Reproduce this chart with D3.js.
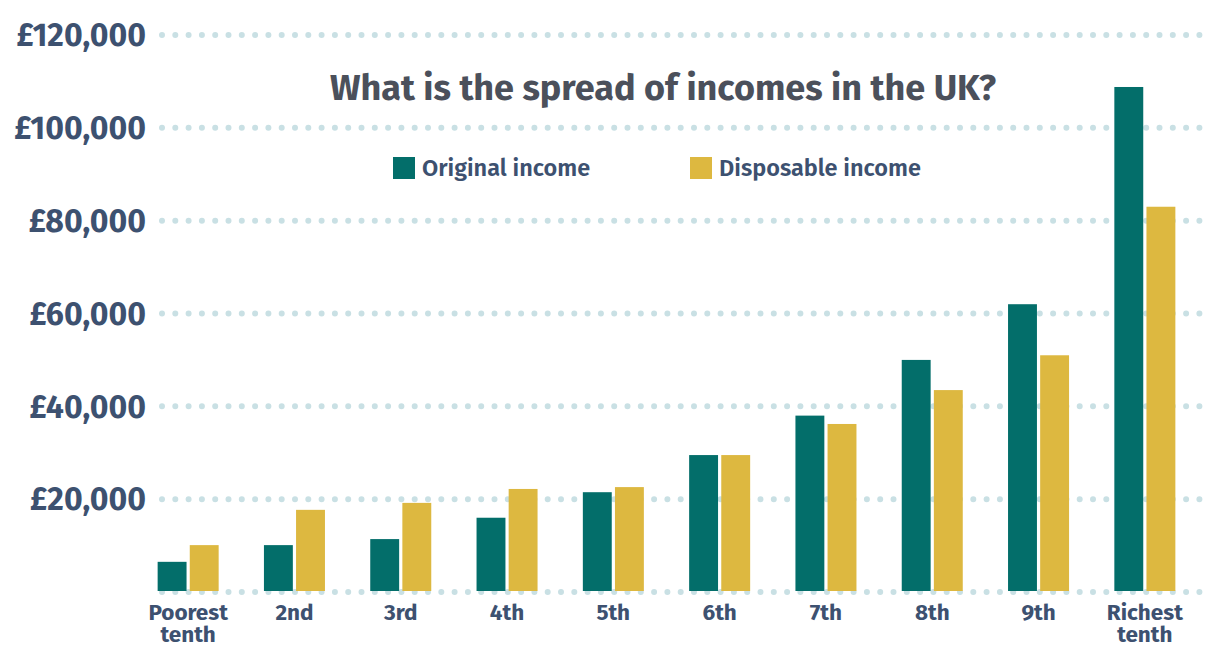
<!DOCTYPE html>
<html>
<head>
<meta charset="utf-8">
<script src="https://cdn.jsdelivr.net/npm/d3@7"></script>
<style>
  body { margin: 0; background: #fff; }
  svg { display: block; font-family: "Fira Sans", Lato, "Open Sans", sans-serif; }
</style>
</head>
<body>
<svg width="1215" height="646"></svg>
<script>
const svg = d3.select('svg');

// data
const deciles = ["Poorest tenth", "2nd", "3rd", "4th", "5th", "6th", "7th", "8th", "9th", "Richest tenth"];
const originalIncome = [6500, 10100, 11400, 16000, 21500, 29500, 38000, 50000, 62000, 108800];
const disposableIncome = [10100, 17700, 19200, 22200, 22600, 29500, 36200, 43500, 51000, 83000];
const seriesNames = ["Original income", "Disposable income"];
const yTicks = [0, 20000, 40000, 60000, 80000, 100000, 120000];

const colors = { "Original income": "#036e6a", "Disposable income": "#ddb840" };
const textColor = "#3d5170";

const data = deciles.map((d, i) => ({
    decile: d,
    values: [
        { key: seriesNames[0], value: originalIncome[i] },
        { key: seriesNames[1], value: disposableIncome[i] }
    ]
}));

const x0 = d3.scaleBand().domain(deciles).range([135, 1198])
    .paddingInner(0.426).paddingOuter(0.213);
const x1 = d3.scaleBand().domain(seriesNames).range([0, x0.bandwidth()]).paddingInner(0.1);
const y = d3.scaleLinear().domain([0, 120000]).range([592, 35]);

// dotted gridlines
const grid = svg.append("g");
grid.selectAll("line")
    .data(yTicks)
    .enter().append("line")
    .attr("x1", 162)
    .attr("x2", 1205)
    .attr("y1", d => y(d))
    .attr("y2", d => y(d))
    .attr("stroke", "#c9e0e4")
    .attr("stroke-width", 6)
    .attr("stroke-linecap", "round")
    .attr("stroke-dasharray", "0 13.3");

// y labels
const fmt = d3.format(",");
svg.append("g").selectAll("text")
    .data(yTicks.filter(d => d > 0))
    .enter().append("text")
    .attr("x", 146)
    .attr("y", d => y(d))
    .attr("dy", "0.35em")
    .attr("text-anchor", "end")
    .style("font-size", "32px")
    .style("font-weight", "bold")
    .style("fill", textColor)
    .text(d => "£" + fmt(d));

// bars
const groups = svg.append("g").selectAll("g")
    .data(data)
    .enter().append("g")
    .attr("transform", d => "translate(" + x0(d.decile) + ",0)");

groups.selectAll("rect")
    .data(d => d.values)
    .enter().append("rect")
    .attr("x", d => x1(d.key))
    .attr("y", d => y(d.value))
    .attr("width", x1.bandwidth())
    .attr("height", d => y(0) - y(d.value) - 1)
    .style("fill", d => colors[d.key]);

// x labels
const xl = svg.append("g").selectAll("text")
    .data(deciles)
    .enter().append("text")
    .attr("x", d => x0(d) + x0.bandwidth() / 2)
    .attr("y", 620)
    .attr("text-anchor", "middle")
    .style("font-size", "22.5px")
    .style("font-weight", "bold")
    .style("fill", textColor);

xl.each(function(d) {
    const words = d.split(" ");
    const t = d3.select(this);
    words.forEach((w, i) => {
        t.append("tspan")
            .attr("x", x0(d) + x0.bandwidth() / 2)
            .attr("dy", i === 0 ? 0 : 22)
            .text(w);
    });
});

// title
svg.append("text")
    .attr("x", 663)
    .attr("y", 100)
    .attr("text-anchor", "middle")
    .style("font-size", "36px")
    .style("font-weight", "bold")
    .style("fill", "#4b505b")
    .text("What is the spread of incomes in the UK?");

// legend
const legendX = [393, 690];
const legend = svg.append("g").selectAll("g")
    .data(seriesNames)
    .enter().append("g")
    .attr("transform", (d, i) => "translate(" + legendX[i] + ",157)");

legend.append("rect")
    .attr("width", 22)
    .attr("height", 22)
    .style("fill", d => colors[d]);

legend.append("text")
    .attr("x", 29)
    .attr("y", 19)
    .style("font-size", "23.5px")
    .style("font-weight", "600")
    .style("fill", textColor)
    .text(d => d);
</script>
</body>
</html>
